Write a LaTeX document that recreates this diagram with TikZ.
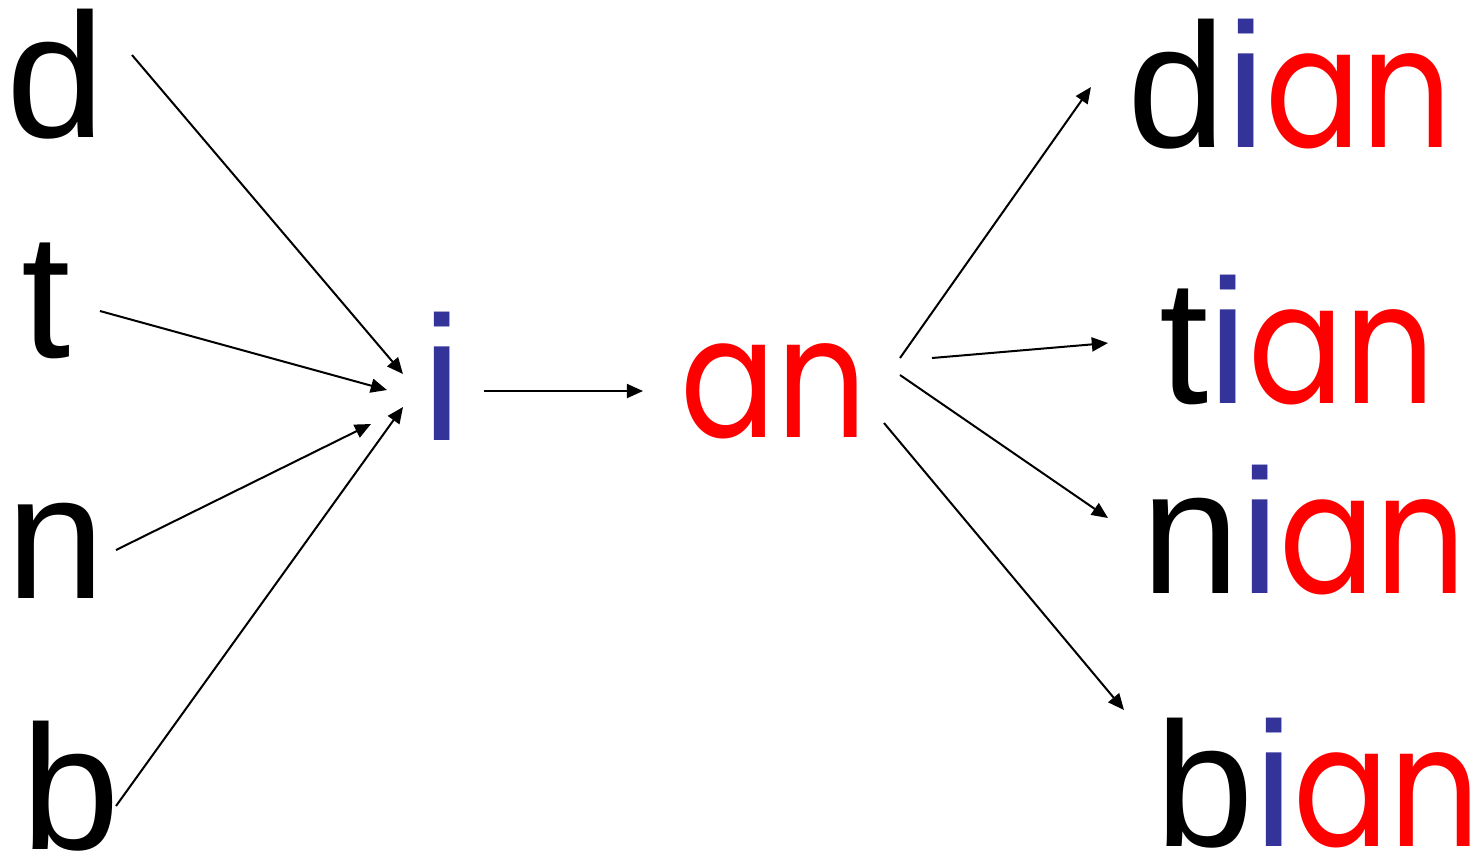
\documentclass[tikz,border=0pt]{standalone}
\usepackage{graphicx}
\usepackage{fontspec}
\setmainfont{Liberation Sans}
\newfontfamily\comicfont{Poppins}
\usetikzlibrary{arrows.meta,calc}
\definecolor{iblue}{RGB}{51,51,153}
\definecolor{anred}{RGB}{255,0,0}
\newcommand{\AN}{\scalebox{0.8}[0.95]{\comicfont\color{anred}an}}
\newcommand{\II}{{\color{iblue}i}}
\tikzset{
  letter/.style={anchor=base west,inner sep=0pt,font=\fontsize{50.4pt}{50pt}\selectfont},
  arr/.style={line width=0.57pt,-{Triangle[length=4.6pt,width=4pt]}}
}
\begin{document}
\begin{tikzpicture}[x=0.01cm,y=-0.01cm]
\useasboundingbox (0,0) rectangle (1484,859);
% left letters
\node[letter] (d) at (6,137) {d};
\node[letter] (t) at (21,357) {t};
\node[letter] (n) at (6,598) {n};
\node[letter] (b) at (21,849) {b};
% middle
\node[letter] (i) at (422,440) {\II};
\node[letter] (an) at (680,437) {\AN};
% right words
\node[letter] (dian) at (1127,147) {d\II\AN};
\node[letter] (tian) at (1159,403) {t\II\AN};
\node[letter] (nian) at (1141,593) {n\II\AN};
\node[letter] (bian) at (1155,846) {b\II\AN};
% connector ends
\coordinate (d-o) at (132,55);   \coordinate (i-d) at (403,374);
\coordinate (t-o) at (100,311);  \coordinate (i-t) at (387,390);
\coordinate (n-o) at (116,550);  \coordinate (i-n) at (371,424);
\coordinate (b-o) at (116,806);  \coordinate (i-b) at (403,407);
\coordinate (i-o) at (484,391);  \coordinate (an-i) at (643,391);
\coordinate (an-o1) at (900,358); \coordinate (dian-i) at (1091,87);
\coordinate (an-o2) at (932,358); \coordinate (tian-i) at (1108,343);
\coordinate (an-o3) at (900,375); \coordinate (nian-i) at (1108,518);
\coordinate (an-o4) at (884,423); \coordinate (bian-i) at (1124,710);
\draw[arr] (d-o) -- (i-d);
\draw[arr] (t-o) -- (i-t);
\draw[arr] (n-o) -- (i-n);
\draw[arr] (b-o) -- (i-b);
\draw[arr] (i-o) -- (an-i);
\draw[arr] (an-o1) -- (dian-i);
\draw[arr] (an-o2) -- (tian-i);
\draw[arr] (an-o3) -- (nian-i);
\draw[arr] (an-o4) -- (bian-i);
\end{tikzpicture}
\end{document}
